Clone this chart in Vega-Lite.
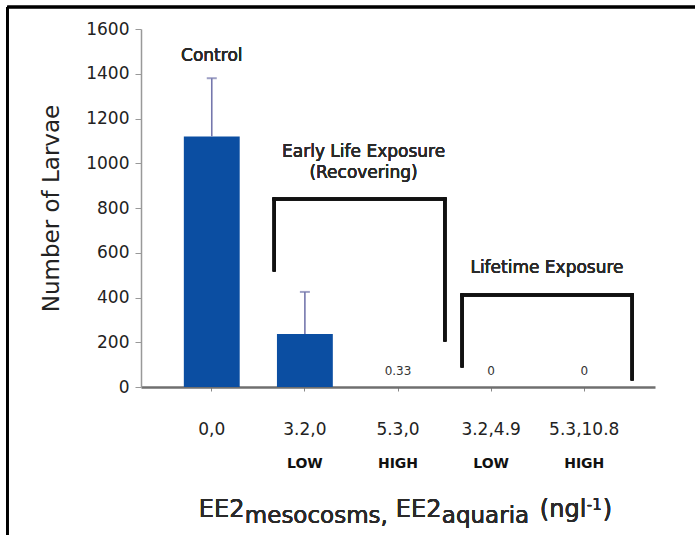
{
  "$schema": "https://vega.github.io/schema/vega-lite/v6.json",
  "width": 514,
  "height": 358,
  "autosize": {"type": "none"},
  "padding": {"left": 141, "top": 29, "right": 40, "bottom": 148},
  "background": "white",
  "config": {"view": {"stroke": null}, "font": "DejaVu Sans", "text": {"fontWeight": "normal"}},
  "data": {"values": [
    {"cat": "0,0", "level": "", "larvae": 1120, "upper": 1380, "label": null},
    {"cat": "3.2,0", "level": "LOW", "larvae": 237, "upper": 425, "label": null},
    {"cat": "5.3,0", "level": "HIGH", "larvae": 0.33, "upper": null, "label": "0.33"},
    {"cat": "3.2,4.9", "level": "LOW", "larvae": 0, "upper": null, "label": "0"},
    {"cat": "5.3,10.8", "level": "HIGH", "larvae": 0, "upper": null, "label": "0"}
  ]},
  "layer": [
    {
      "mark": {"type": "bar", "color": "#0b4ea2"},
      "encoding": {
        "x": {"field": "cat", "type": "nominal", "sort": null,
          "scale": {"domain": ["0,0", "3.2,0", "5.3,0", "3.2,4.9", "5.3,10.8"], "paddingInner": 0.4, "paddingOuter": 0.46},
          "axis": {"title": null, "labelAngle": 0, "labelFontSize": 17, "labelColor": "#222", "labelPadding": 30, "tickSize": 4, "tickColor": "#888", "domainColor": "#6f6f6f", "domainWidth": 2.5}},
        "y": {"field": "larvae", "type": "quantitative",
          "scale": {"domain": [0, 1600], "nice": false},
          "axis": {"title": "Number of Larvae", "titleFontSize": 23, "titleFontWeight": "normal", "titleColor": "#222", "titlePadding": 22, "format": "d",
            "values": [0, 200, 400, 600, 800, 1000, 1200, 1400, 1600], "labelFontSize": 17, "labelColor": "#222", "labelPadding": 6,
            "tickSize": 6, "tickColor": "#999", "domainColor": "#999", "domainWidth": 1.5, "grid": false}}
      }
    },
    {
      "transform": [{"filter": "isValid(datum.upper)"}],
      "mark": {"type": "rule", "color": "#7577ad", "strokeWidth": 1.6},
      "encoding": {
        "x": {"field": "cat", "type": "nominal", "sort": null},
        "y": {"field": "larvae", "type": "quantitative"},
        "y2": {"field": "upper"}
      }
    },
    {
      "transform": [{"filter": "isValid(datum.upper)"}],
      "mark": {"type": "tick", "color": "#7577ad", "size": 10, "thickness": 2},
      "encoding": {
        "x": {"field": "cat", "type": "nominal", "sort": null},
        "y": {"field": "upper", "type": "quantitative"}
      }
    },
    {
      "transform": [{"filter": "isValid(datum.label)"}],
      "mark": {"type": "text", "fontSize": 12, "fontWeight": "normal", "color": "#333", "baseline": "middle"},
      "encoding": {
        "x": {"field": "cat", "type": "nominal", "sort": null},
        "y": {"datum": 72},
        "text": {"field": "label"}
      }
    },
    {
      "mark": {"type": "text", "fontSize": 14, "fontWeight": "bold", "color": "#111", "baseline": "middle"},
      "encoding": {
        "x": {"field": "cat", "type": "nominal", "sort": null},
        "y": {"datum": -344},
        "text": {"field": "level"}
      }
    },
    {
      "mark": {"type": "text", "fontSize": 17, "fontWeight": "normal", "color": "#2a2a2a", "baseline": "middle"},
      "encoding": {
        "x": {"datum": "0,0"},
        "y": {"datum": 1479},
        "text": {"value": "Control"}
      }
    },
    {
      "mark": {"type": "text", "fontSize": 17, "fontWeight": "normal", "color": "#2a2a2a", "baseline": "middle", "lineHeight": 21},
      "encoding": {
        "x": {"datum": "3.2,0", "bandPosition": 1.55},
        "y": {"datum": 1050},
        "text": {"value": ["Early Life Exposure", "(Recovering)"]}
      }
    },
    {
      "mark": {"type": "text", "fontSize": 17, "fontWeight": "normal", "color": "#2a2a2a", "baseline": "middle"},
      "encoding": {
        "x": {"datum": "3.2,4.9", "bandPosition": 1.5},
        "y": {"datum": 532},
        "text": {"value": "Lifetime Exposure"}
      }
    },
    {
      "mark": {"type": "rule", "color": "#111", "strokeWidth": 3, "strokeCap": "square"},
      "encoding": {"x": {"datum": "3.2,0", "bandPosition": -0.05}, "y": {"datum": 840}, "y2": {"datum": 523}}
    },
    {
      "mark": {"type": "rule", "color": "#111", "strokeWidth": 3, "strokeCap": "square"},
      "encoding": {"x": {"datum": "3.2,0", "bandPosition": -0.05}, "x2": {"datum": "5.3,0", "bandPosition": 1.34}, "y": {"datum": 840}}
    },
    {
      "mark": {"type": "rule", "color": "#111", "strokeWidth": 3, "strokeCap": "square"},
      "encoding": {"x": {"datum": "5.3,0", "bandPosition": 1.34}, "y": {"datum": 840}, "y2": {"datum": 210}}
    },
    {
      "mark": {"type": "rule", "color": "#111", "strokeWidth": 3, "strokeCap": "square"},
      "encoding": {"x": {"datum": "3.2,4.9", "bandPosition": -0.02}, "y": {"datum": 411}, "y2": {"datum": 94}}
    },
    {
      "mark": {"type": "rule", "color": "#111", "strokeWidth": 3, "strokeCap": "square"},
      "encoding": {"x": {"datum": "3.2,4.9", "bandPosition": -0.02}, "x2": {"datum": "5.3,10.8", "bandPosition": 1.357}, "y": {"datum": 411}}
    },
    {
      "mark": {"type": "rule", "color": "#111", "strokeWidth": 3, "strokeCap": "square"},
      "encoding": {"x": {"datum": "5.3,10.8", "bandPosition": 1.357}, "y": {"datum": 411}, "y2": {"datum": 36}}
    },
    {
      "mark": {"type": "rule", "color": "#000", "strokeWidth": 2.5},
      "encoding": {"x": {"datum": "0,0", "bandPosition": -3.16}, "y": {"datum": 1698}, "y2": {"datum": -720}}
    },
    {
      "mark": {"type": "rule", "color": "#000", "strokeWidth": 2.5},
      "encoding": {"x": {"datum": "0,0", "bandPosition": -3.16}, "x2": {"datum": "5.3,10.8", "bandPosition": 3}, "y": {"datum": 1698}}
    },
    {
      "mark": {"type": "text", "fontSize": 24, "fontWeight": "normal", "color": "#2a2a2a", "align": "left", "baseline": "alphabetic", "dx": 15},
      "encoding": {"x": {"datum": "0,0", "bandPosition": 0}, "y": {"datum": -581}, "text": {"value": "EE2"}}
    },
    {
      "mark": {"type": "text", "fontSize": 23, "fontWeight": "normal", "color": "#2a2a2a", "align": "left", "baseline": "alphabetic", "dx": 61},
      "encoding": {"x": {"datum": "0,0", "bandPosition": 0}, "y": {"datum": -608}, "text": {"value": "mesocosms,"}}
    },
    {
      "mark": {"type": "text", "fontSize": 24, "fontWeight": "normal", "color": "#2a2a2a", "align": "left", "baseline": "alphabetic", "dx": 212},
      "encoding": {"x": {"datum": "0,0", "bandPosition": 0}, "y": {"datum": -581}, "text": {"value": "EE2"}}
    },
    {
      "mark": {"type": "text", "fontSize": 23, "fontWeight": "normal", "color": "#2a2a2a", "align": "left", "baseline": "alphabetic", "dx": 258},
      "encoding": {"x": {"datum": "0,0", "bandPosition": 0}, "y": {"datum": -608}, "text": {"value": "aquaria"}}
    },
    {
      "mark": {"type": "text", "fontSize": 24, "fontWeight": "normal", "color": "#2a2a2a", "align": "left", "baseline": "alphabetic", "dx": 356},
      "encoding": {"x": {"datum": "0,0", "bandPosition": 0}, "y": {"datum": -581}, "text": {"value": "(ngl"}}
    },
    {
      "mark": {"type": "text", "fontSize": 15, "fontWeight": "normal", "color": "#2a2a2a", "align": "left", "baseline": "alphabetic", "dx": 403},
      "encoding": {"x": {"datum": "0,0", "bandPosition": 0}, "y": {"datum": -550}, "text": {"value": "-1"}}
    },
    {
      "mark": {"type": "text", "fontSize": 24, "fontWeight": "normal", "color": "#2a2a2a", "align": "left", "baseline": "alphabetic", "dx": 419},
      "encoding": {"x": {"datum": "0,0", "bandPosition": 0}, "y": {"datum": -581}, "text": {"value": ")"}}
    }
  ]
}
